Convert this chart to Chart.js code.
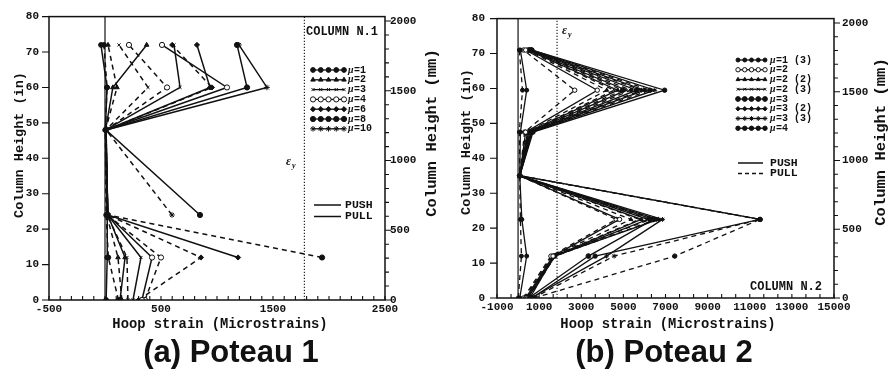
<!DOCTYPE html>
<html>
<head>
<meta charset="utf-8">
<script src="https://cdn.jsdelivr.net/npm/chart.js@4.4.1/dist/chart.umd.min.js"></script>
<style>
  html, body { margin: 0; padding: 0; background: #fff; }
  #wrap { position: relative; width: 889px; height: 374px; overflow: hidden; background: #fff; }
  .panel { position: absolute; top: 0; }
  .cap { position: absolute; top: 336px; width: 300px; text-align: center;
         font: bold 31px "Liberation Sans", Arial, sans-serif; line-height: 31px; color: #111; }
</style>
</head>
<body>
<div id="wrap">
  <canvas id="c1" class="panel" width="445" height="374" style="left:0"></canvas>
  <canvas id="c2" class="panel" width="444" height="374" style="left:445px"></canvas>
  <div class="cap" style="left:81px">(a) Poteau 1</div>
  <div class="cap" style="left:514px">(b) Poteau 2</div>
</div>
<script>
// ---------- Column N.1 : hoop strain profiles (microstrains) at gauge heights (in) ----------
const col1Heights = [0, 12, 24, 48, 60, 72];
const col1Labels = ['μ=1', 'μ=2', 'μ=3', 'μ=4', 'μ=6', 'μ=8', 'μ=10'];
const col1Push = [
  [10, 20, 20, 3, 18, -36],
  [134, 179, 25, 5, 70, 372],
  [250, 321, 25, 5, 670, 616],
  [330, 420, 25, 8, 1089, 509],
  [null, 1188, 25, 8, 938, 821],
  [null, null, 848, 10, 1268, 1179],
  [null, null, null, 10, 1446, 1196]
];
const col1Pull = [
  [120, 30, 10, 3, 18, -9],
  [150, 116, 15, 5, 107, 27],
  [205, 196, 20, 8, 384, 125],
  [357, 500, 20, 10, 554, 214],
  [300, 857, 25, 10, 955, 600],
  [null, 1938, 25, 10, null, null],
  [null, null, 598, 10, null, null]
];
const col1YieldStrain = 1780;

// ---------- Column N.2 ----------
const col2Heights = [0, 12, 22.5, 35, 47.5, 59.5, 71];
const col2Labels = ['μ=1 (3)', 'μ=2', 'μ=2 (2)', 'μ=2 (3)', 'μ=3', 'μ=3 (2)', 'μ=3 (3)', 'μ=4'];
const col2Push = [
  [80, 410, 180, 80, 110, 410, 110],
  [360, 1660, 4820, 80, 360, 3760, 360],
  [410, 1710, 5860, 80, 460, 4730, 460],
  [460, 1760, 6160, 80, 510, 5150, 510],
  [510, 3340, 6430, 80, 560, 5630, 560],
  [560, 1710, 6660, 80, 610, 6010, 610],
  [610, 4200, 6860, 80, 660, 6490, 660],
  [660, 3660, 11490, 80, 710, 6960, 660]
];
const col2Pull = [
  [10, 160, 110, 80, 60, 210, 60],
  [260, 1560, 4660, 80, 310, 2690, 260],
  [310, 1610, 5360, 80, 410, 4210, 410],
  [410, 1660, 5760, 80, 460, 4560, 460],
  [460, 1710, 6260, 80, 510, 4960, 510],
  [510, 1760, 6560, 80, 560, 5360, 560],
  [710, 4560, 11490, 80, 610, 5860, 610],
  [760, 7440, 11490, 80, 660, 6260, 640]
];
const col2YieldStrain = 1850;

// Axis tick settings
const col1XTicks = { min: -500, max: 2500, step: 1000, minor: 100 };
const col2XTicks = { min: -1000, max: 15000, step: 2000, minor: 2000 / 3 };
const heightTicksIn = { min: 0, max: 80, step: 10 };
const heightTicksMm = { max: 2000, step: 500, minor: 100 };

const INK = '#111';
const MONO = '"Liberation Mono", "Courier New", monospace';

const col1Styles = [
  { style: 'circle', fill: INK, r: 2.4 },
  { style: 'triangle', fill: INK, r: 2.6 },
  { style: 'crossRot', fill: INK, r: 2.2 },
  { style: 'circle', fill: '#fff', r: 2.6 },
  { style: 'rectRot', fill: INK, r: 2.6 },
  { style: 'circle', fill: INK, r: 2.6 },
  { style: 'star', fill: INK, r: 2.8 }
];
const col2Styles = [
  { style: 'circle', fill: INK, r: 2.0 },
  { style: 'circle', fill: '#fff', r: 2.2 },
  { style: 'triangle', fill: INK, r: 2.2 },
  { style: 'crossRot', fill: INK, r: 2.0 },
  { style: 'circle', fill: INK, r: 2.4 },
  { style: 'rectRot', fill: INK, r: 2.2 },
  { style: 'star', fill: INK, r: 2.4 },
  { style: 'circle', fill: INK, r: 2.2 }
];

function toPoints(values, heights) {
  const pts = [];
  values.forEach((v, k) => { if (v !== null) pts.push({ x: v, y: heights[k] }); });
  return pts;
}

function profileSets(push, pull, heights, labels, styles, lw) {
  const sets = [];
  push.forEach((vals, i) => sets.push({
    label: labels[i] + ' PUSH', data: toPoints(vals, heights), showLine: true,
    borderColor: INK, borderWidth: lw, tension: 0,
    pointStyle: styles[i].style, pointRadius: styles[i].r,
    pointBackgroundColor: styles[i].fill, pointBorderColor: INK, pointBorderWidth: 1
  }));
  pull.forEach((vals, i) => sets.push({
    label: labels[i] + ' PULL', data: toPoints(vals, heights), showLine: true,
    borderColor: INK, borderWidth: lw, borderDash: [5, 4], tension: 0,
    pointStyle: styles[i].style, pointRadius: styles[i].r,
    pointBackgroundColor: styles[i].fill, pointBorderColor: INK, pointBorderWidth: 1
  }));
  return sets;
}

function refLine(x, dash, width) {
  return {
    label: 'ref', data: [{ x: x, y: 0 }, { x: x, y: 80 }], showLine: true,
    borderColor: INK, borderWidth: width, borderDash: dash, pointRadius: 0, order: 10
  };
}

function drawMarker(ctx, st, x, y) {
  ctx.save();
  ctx.fillStyle = st.fill; ctx.strokeStyle = INK; ctx.lineWidth = 1;
  Chart.helpers.drawPoint(ctx, { pointStyle: st.style, radius: st.r, rotation: 0, borderWidth: 1 }, x, y);
  ctx.restore();
}

function vText(ctx, txt, x, y, font) {
  ctx.save();
  ctx.translate(x, y); ctx.rotate(-Math.PI / 2);
  ctx.font = font; ctx.textAlign = 'center'; ctx.textBaseline = 'middle';
  ctx.fillText(txt, 0, 0);
  ctx.restore();
}

function muText(ctx, txt, x, y, size) {
  // italic μ followed by the rest of the label
  ctx.textAlign = 'left'; ctx.textBaseline = 'middle';
  ctx.font = 'italic bold ' + size + 'px "Liberation Serif", serif';
  const mu = txt.charAt(0);
  ctx.fillText(mu, x, y);
  const w = ctx.measureText(mu).width;
  ctx.font = 'bold ' + size + 'px ' + MONO;
  ctx.fillText(txt.slice(1), x + w + 0.5, y);
}

function epsText(ctx, x, y) {
  ctx.textAlign = 'left'; ctx.textBaseline = 'alphabetic';
  ctx.font = 'italic bold 12px "Liberation Serif", serif';
  ctx.fillText('ε', x, y);
  ctx.font = 'italic bold 8px "Liberation Serif", serif';
  ctx.fillText('y', x + 6, y + 3);
}

function decor(spec) {
  return {
    id: 'decor',
    afterDraw(chart) {
      const ctx = chart.ctx, a = chart.chartArea;
      const xs = chart.scales.x, ys = chart.scales.y, ms = chart.scales.mm;
      ctx.save();
      ctx.strokeStyle = INK; ctx.fillStyle = INK;
      // plot frame
      ctx.lineWidth = 1.5;
      ctx.strokeRect(a.left, a.top, a.right - a.left, a.bottom - a.top);
      // tick marks
      ctx.lineWidth = 1.1;
      ctx.beginPath();
      const nx = Math.round((spec.xt.max - spec.xt.min) / spec.xt.minor);
      for (let i = 0; i <= nx; i++) {
        const p = xs.getPixelForValue(spec.xt.min + i * spec.xt.minor);
        ctx.moveTo(p, a.bottom); ctx.lineTo(p, a.bottom - 4);
      }
      for (let v = heightTicksIn.min; v <= heightTicksIn.max; v += heightTicksIn.step) {
        const p = ys.getPixelForValue(v);
        ctx.moveTo(a.left, p); ctx.lineTo(a.left - 7, p);
      }
      for (let v = 0; v <= heightTicksMm.max; v += heightTicksMm.minor) {
        const p = ms.getPixelForValue(v);
        const len = v % heightTicksMm.step === 0 ? 6 : 4;
        ctx.moveTo(a.right, p); ctx.lineTo(a.right + len, p);
      }
      ctx.stroke();

      // millimetre tick labels on the right axis
      ctx.font = 'bold 11px ' + MONO; ctx.textAlign = 'left'; ctx.textBaseline = 'middle';
      for (let v = 0; v <= heightTicksMm.max; v += heightTicksMm.step) {
        ctx.fillText(String(v), a.right + spec.mmPad, ms.getPixelForValue(v));
      }

      // axis titles
      vText(ctx, 'Column Height (in)', spec.tIn.x, spec.tIn.y, 'bold 13.5px ' + MONO);
      vText(ctx, 'Column Height (mm)', spec.tMm.x, spec.tMm.y, 'bold 15.5px ' + MONO);
      ctx.font = 'bold 13.8px ' + MONO; ctx.textAlign = 'center'; ctx.textBaseline = 'middle';
      ctx.fillText('Hoop strain (Microstrains)', spec.tX.x, spec.tX.y);

      // ductility legend
      const lg = spec.legend;
      spec.labels.forEach((lab, i) => {
        const y = lg.y0 + i * lg.dy;
        ctx.lineWidth = 1.3; ctx.setLineDash([]);
        ctx.beginPath(); ctx.moveTo(lg.x0, y); ctx.lineTo(lg.x1, y); ctx.stroke();
        for (let k = 0; k < 5; k++) drawMarker(ctx, spec.styles[i], lg.x0 + k * (lg.x1 - lg.x0) / 4, y);
        ctx.fillStyle = INK;
        muText(ctx, lab, lg.tx, y, 10);
      });
      // load direction legend
      const pp = spec.pushPull;
      [['PUSH', [], pp.y0], ['PULL', pp.pullDash, pp.y1]].forEach(([txt, dash, y]) => {
        ctx.lineWidth = 1.5; ctx.setLineDash(dash);
        ctx.beginPath(); ctx.moveTo(pp.x0, y); ctx.lineTo(pp.x1, y); ctx.stroke();
        ctx.setLineDash([]);
        ctx.font = 'bold 11.5px ' + MONO; ctx.textAlign = 'left'; ctx.textBaseline = 'middle';
        ctx.fillText(txt, pp.tx, y);
      });
      // column tag and yield strain label
      ctx.font = 'bold 12px ' + MONO; ctx.textAlign = 'left'; ctx.textBaseline = 'middle';
      ctx.fillText(spec.tag.text, spec.tag.x, spec.tag.y);
      epsText(ctx, spec.eps.x, spec.eps.y);
      ctx.restore();
    }
  };
}

function makePanel(id, o) {
  const tickFont = { family: MONO, size: 11, weight: 'bold' };
  const datasets = [refLine(0, [], 1.2), refLine(o.yieldStrain, [1.2, 1.8], 1.1)]
    .concat(profileSets(o.push, o.pull, o.heights, o.labels, o.styles, o.lw));
  return new Chart(document.getElementById(id), {
    type: 'scatter',
    data: { datasets },
    options: {
      responsive: false, animation: false, events: [],
      layout: { padding: { top: o.top, bottom: o.bottom, left: 0, right: 0 } },
      plugins: { legend: { display: false }, tooltip: { enabled: false } },
      scales: {
        x: {
          type: 'linear', min: o.xt.min, max: o.xt.max,
          ticks: { stepSize: o.xt.step, padding: 3, color: INK, font: tickFont,
                   maxRotation: 0, autoSkip: false, callback: v => String(v) },
          grid: { display: false, drawTicks: false }, border: { display: false },
          afterFit: s => { s.height = 20; }
        },
        y: {
          type: 'linear', position: 'left', min: heightTicksIn.min, max: heightTicksIn.max,
          ticks: { stepSize: heightTicksIn.step, padding: o.yPad, color: INK, font: tickFont, callback: v => String(v) },
          grid: { display: false, drawTicks: false }, border: { display: false },
          afterFit: s => { s.width = o.leftW; }
        },
        mm: {
          type: 'linear', position: 'right', min: 0, max: heightTicksIn.max * 25.4,
          ticks: { display: false },
          grid: { display: false, drawTicks: false }, border: { display: false },
          afterFit: s => { s.width = o.rightW; }
        }
      }
    },
    plugins: [decor(o)]
  });
}

makePanel('c1', {
  heights: col1Heights, labels: col1Labels, push: col1Push, pull: col1Pull, styles: col1Styles,
  yieldStrain: col1YieldStrain, xt: col1XTicks, lw: 1.5,
  top: 15.7, bottom: 54, leftW: 49, rightW: 60, yPad: 10, mmPad: 5,
  tIn: { x: 20, y: 145 }, tMm: { x: 432, y: 133 }, tX: { x: 220, y: 325 },
  legend: { x0: 313, x1: 344, tx: 348, y0: 70, dy: 9.8 },
  pushPull: { x0: 314, x1: 341, tx: 345, y0: 205, y1: 216.5, pullDash: [] },
  tag: { text: 'COLUMN N.1', x: 306, y: 32 },
  eps: { x: 286, y: 165 }
});

makePanel('c2', {
  heights: col2Heights, labels: col2Labels, push: col2Push, pull: col2Pull, styles: col2Styles,
  yieldStrain: col2YieldStrain, xt: col2XTicks, lw: 1.3,
  top: 12.5, bottom: 56, leftW: 52, rightW: 55, yPad: 12, mmPad: 8,
  tIn: { x: 22, y: 142 }, tMm: { x: 436, y: 142 }, tX: { x: 223, y: 325 },
  legend: { x0: 293, x1: 320, tx: 325, y0: 60, dy: 9.75 },
  pushPull: { x0: 293, x1: 318, tx: 325, y0: 163, y1: 173.5, pullDash: [4, 3] },
  tag: { text: 'COLUMN N.2', x: 305, y: 287 },
  eps: { x: 117, y: 34 }
});
</script>
</body>
</html>
